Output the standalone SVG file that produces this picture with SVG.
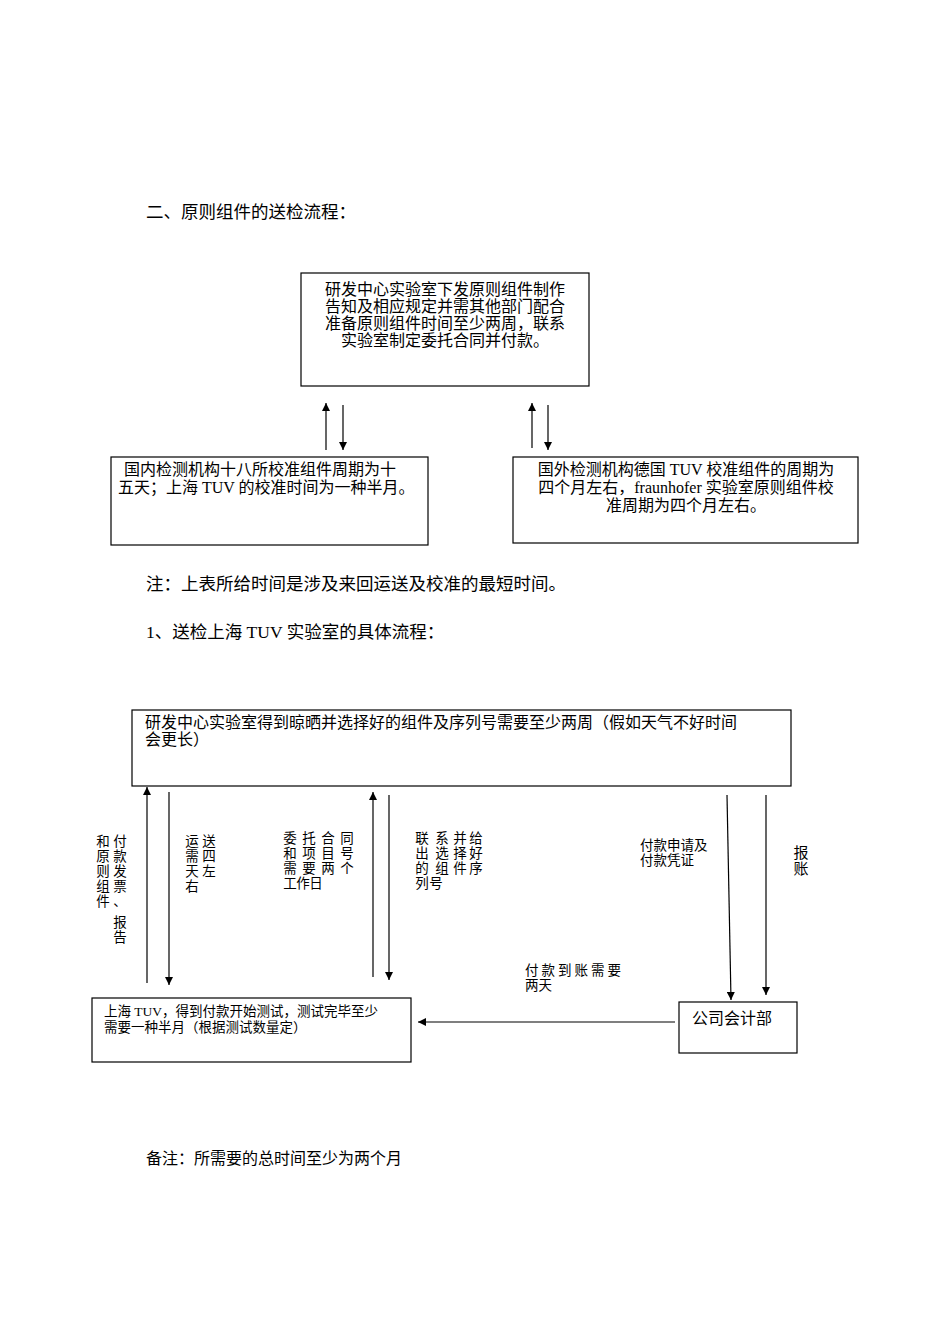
<svg xmlns="http://www.w3.org/2000/svg" width="950" height="1344" viewBox="0 0 950 1344">
<defs><marker id="a" viewBox="0 0 10 10" refX="10" refY="5" markerWidth="8" markerHeight="8" orient="auto" markerUnits="userSpaceOnUse"><path d="M0,0L10,5L0,10z" fill="#000"/></marker></defs>
<style>
text{font-family:"Liberation Serif","Noto Sans CJK SC",serif;fill:#000}
.t{font-size:17.5px}.b{font-size:16px}.s{font-size:13.5px}
.box{fill:#fff;stroke:#000;stroke-width:1.2}
line{stroke:#000;stroke-width:1.2;marker-end:url(#a)}
</style>
<rect width="950" height="1344" fill="#fff"/>
<text class="t" x="146" y="218">二、原则组件的送检流程：</text>
<g id="n1"><rect class="box" x="301" y="273" width="288" height="113"/>
<text class="b" text-anchor="middle" x="445" y="295">研发中心实验室下发原则组件制作</text>
<text class="b" text-anchor="middle" x="445" y="312">告知及相应规定并需其他部门配合</text>
<text class="b" text-anchor="middle" x="445" y="329">准备原则组件时间至少两周，联系</text>
<text class="b" text-anchor="middle" x="445" y="346">实验室制定委托合同并付款。</text></g>
<g id="n2"><rect class="box" x="111" y="457" width="317" height="88"/>
<text class="b" x="124" y="475">国内检测机构十八所校准组件周期为十</text>
<text class="b" x="118" y="493">五天；上海 TUV 的校准时间为一种半月。</text></g>
<g id="n3"><rect class="box" x="513" y="457" width="345" height="86"/>
<text class="b" text-anchor="middle" x="686" y="475">国外检测机构德国 TUV 校准组件的周期为</text>
<text class="b" text-anchor="middle" x="686" y="493">四个月左右，fraunhofer 实验室原则组件校</text>
<text class="b" text-anchor="middle" x="686" y="511">准周期为四个月左右。</text></g>
<text class="t" x="146" y="590">注：上表所给时间是涉及来回运送及校准的最短时间。</text>
<text class="t" x="146" y="638">1、送检上海 TUV 实验室的具体流程：</text>
<g id="n4"><rect class="box" x="132" y="710" width="659" height="76"/>
<text class="b" x="145" y="728">研发中心实验室得到晾晒并选择好的组件及序列号需要至少两周（假如天气不好时间</text>
<text class="b" x="145" y="745">会更长）</text></g>
<g id="n5"><rect class="box" x="92" y="998" width="319" height="64"/>
<text class="s" x="104" y="1016">上海 TUV，得到付款开始测试，测试完毕至少</text>
<text class="s" x="104" y="1032">需要一种半月（根据测试数量定）</text></g>
<g id="n6"><rect class="box" x="679" y="1002" width="118" height="51"/>
<text class="b" x="692" y="1024">公司会计部</text></g>
<g id="connectors">
<line x1="326" y1="450" x2="326" y2="403"/><line x1="343" y1="405" x2="343" y2="450"/>
<line x1="532" y1="448" x2="532" y2="403"/><line x1="548" y1="405" x2="548" y2="450"/>
<line x1="147" y1="983" x2="147" y2="787"/><line x1="169" y1="792" x2="169" y2="985"/>
<line x1="373" y1="977" x2="373" y2="792"/><line x1="389" y1="795" x2="389" y2="980"/>
<line x1="727" y1="795" x2="731" y2="1000"/><line x1="766" y1="795" x2="766" y2="995"/>
<line x1="675" y1="1022" x2="418" y2="1022"/>
</g>
<g text-anchor="middle" font-size="13.5">
<text x="103" y="846">和</text><text x="103" y="861">原</text><text x="103" y="876">则</text><text x="103" y="891">组</text><text x="103" y="906">件</text>
<text x="120" y="846">付</text><text x="120" y="861">款</text><text x="120" y="876">发</text><text x="120" y="891">票</text><text x="120" y="906">、</text><text x="120" y="927">报</text><text x="120" y="942">告</text>
<text x="192" y="846">运</text><text x="192" y="861">需</text><text x="192" y="876">天</text><text x="192" y="891">右</text>
<text x="209" y="846">送</text><text x="209" y="861">四</text><text x="209" y="876">左</text>
<text x="290" y="843">委</text><text x="290" y="858">和</text><text x="290" y="873">需</text><text x="290" y="888">工</text>
<text x="309" y="843">托</text><text x="309" y="858">项</text><text x="309" y="873">要</text><text x="303" y="888">作</text>
<text x="328" y="843">合</text><text x="328" y="858">目</text><text x="328" y="873">两</text><text x="316" y="888">日</text>
<text x="347" y="843">同</text><text x="347" y="858">号</text><text x="347" y="873">个</text>
<text x="422" y="843">联</text><text x="422" y="858">出</text><text x="422" y="873">的</text><text x="422" y="888">列</text>
<text x="442" y="843">系</text><text x="442" y="858">选</text><text x="442" y="873">组</text><text x="436" y="888">号</text>
<text x="460" y="843">并</text><text x="460" y="858">择</text><text x="460" y="873">件</text>
<text x="476" y="843">给</text><text x="476" y="858">好</text><text x="476" y="873">序</text>
<text x="801" y="858" font-size="15">报</text><text x="801" y="874" font-size="15">账</text>
</g>
<text class="s" x="640" y="850">付款申请及</text><text class="s" x="640" y="865">付款凭证</text>
<text class="s" x="525" y="975" letter-spacing="3">付款到账需要</text><text class="s" x="525" y="990">两天</text>
<text class="b" x="146" y="1164">备注：所需要的总时间至少为两个月</text>
</svg>
